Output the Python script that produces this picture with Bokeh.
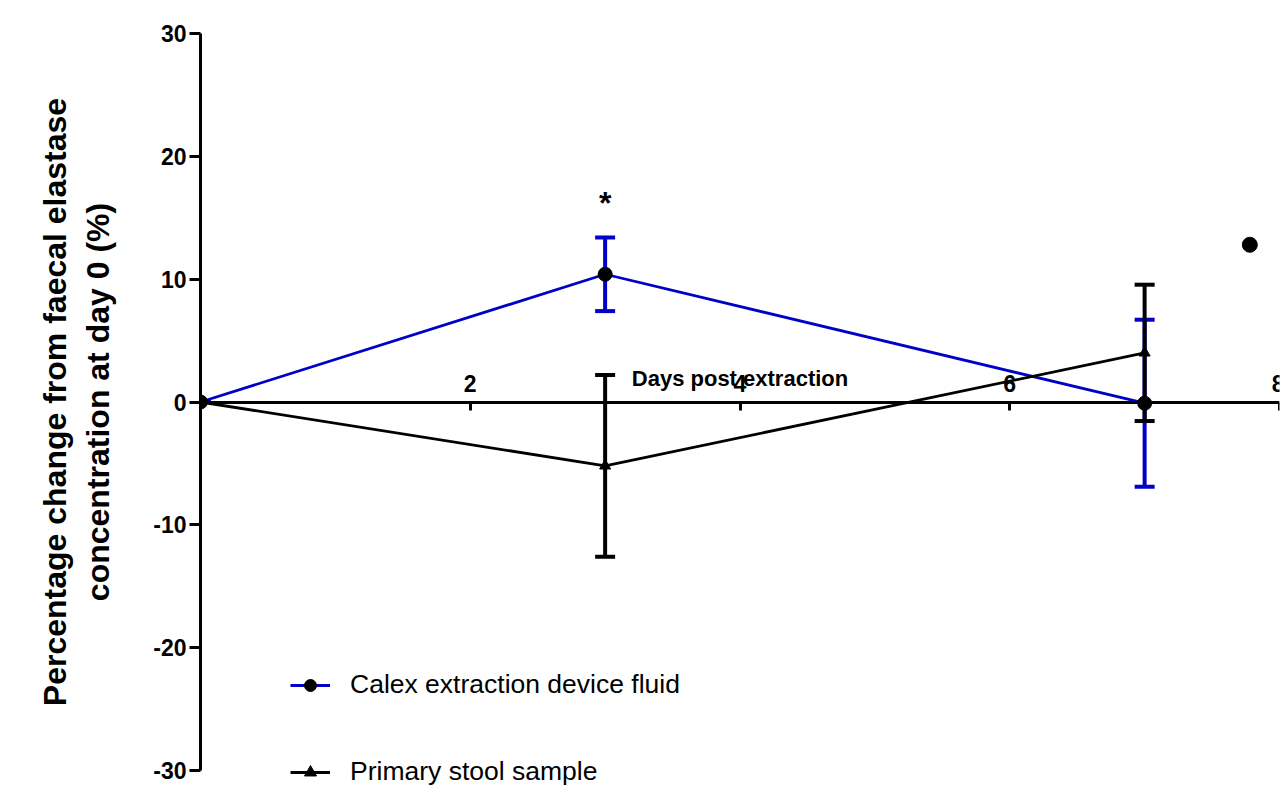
from bokeh.plotting import figure
from bokeh.models import (ColumnDataSource, Whisker, TeeHead, FixedTicker, Legend,
                          LegendItem, Range1d, PrintfTickFormatter)
from bokeh.core.properties import value
from bokeh.embed import file_html
from bokeh.resources import INLINE

# ---- data ----
days = [0, 3, 7]
calex_mean = [0.0, 10.4, -0.1]
calex_err = [0.0, 3.0, 6.8]
stool_mean = [0.0, -5.2, 4.0]
stool_err = [0.0, 7.4, 5.55]
x_ticks = [2, 4, 6, 8]
y_ticks = [-30, -20, -10, 0, 10, 20, 30]
star_x = [3]
star_y = [16.2]
stray_x = [7.78]
stray_y = [12.8]

FONT = "Liberation Sans"
BLUE = "#0000c8"

p = figure(width=1284, height=796, x_range=Range1d(0, 8), y_range=Range1d(-31.63, 31.63),
           x_axis_location="above", output_backend="svg", toolbar_location=None,
           min_border_left=200, min_border_right=5, min_border_top=13, min_border_bottom=6)
p.outline_line_color = None
p.xgrid.visible = False
p.ygrid.visible = False
p.background_fill_color = "white"

# x axis fixed at y = 0
xa = p.xaxis[0]
xa.fixed_location = 0
xa.bounds = (0, 8)
xa.ticker = FixedTicker(ticks=x_ticks)
xa.formatter = PrintfTickFormatter(format="%d")
xa.axis_line_width = 3
xa.axis_line_color = "black"
xa.major_tick_line_width = 3
xa.major_tick_line_color = "black"
xa.major_tick_in = 8
xa.major_tick_out = 0
xa.minor_tick_line_color = None
xa.major_label_standoff = 10
xa.major_label_text_font = FONT
xa.major_label_text_font_style = "bold"
xa.major_label_text_font_size = "23px"
xa.major_label_text_color = "black"
xa.axis_label = "Days post extraction"
xa.axis_label_text_font = FONT
xa.axis_label_text_font_style = "bold"
xa.axis_label_text_font_size = "22px"
xa.axis_label_text_color = "black"
xa.axis_label_standoff = -18

ya = p.yaxis[0]
ya.bounds = (-30, 30)
ya.ticker = FixedTicker(ticks=y_ticks)
ya.formatter = PrintfTickFormatter(format="%d")
ya.axis_line_width = 3
ya.axis_line_color = "black"
ya.major_tick_line_width = 3
ya.major_tick_line_color = "black"
ya.major_tick_in = 0
ya.major_tick_out = 11
ya.minor_tick_line_color = None
ya.major_label_standoff = 3
ya.major_label_text_font = FONT
ya.major_label_text_font_style = "bold"
ya.major_label_text_font_size = "23px"
ya.major_label_text_color = "black"
ya.axis_label = "Percentage change from faecal elastase\nconcentration at day 0 (%)"
ya.axis_label_text_font = FONT
ya.axis_label_text_font_style = "bold"
ya.axis_label_text_font_size = "32px"
ya.axis_label_text_color = "black"
ya.axis_label_standoff = 34

calex = ColumnDataSource(dict(x=days, y=calex_mean,
                              lo=[m - e for m, e in zip(calex_mean, calex_err)],
                              hi=[m + e for m, e in zip(calex_mean, calex_err)]))
stool = ColumnDataSource(dict(x=days, y=stool_mean,
                              lo=[m - e for m, e in zip(stool_mean, stool_err)],
                              hi=[m + e for m, e in zip(stool_mean, stool_err)]))

# Calex series (blue)
c_line = p.line("x", "y", source=calex, line_color=BLUE, line_width=2.8)
p.add_layout(Whisker(source=calex, base="x", lower="lo", upper="hi", dimension="height",
                     line_color=BLUE, line_width=4,
                     upper_head=TeeHead(size=20, line_color=BLUE, line_width=4),
                     lower_head=TeeHead(size=20, line_color=BLUE, line_width=4)))

# Stool series (black)
s_line = p.line("x", "y", source=stool, line_color="black", line_width=2.8)
p.add_layout(Whisker(source=stool, base="x", lower="lo", upper="hi", dimension="height",
                     line_color="black", line_width=4,
                     upper_head=TeeHead(size=20, line_color="black", line_width=4),
                     lower_head=TeeHead(size=20, line_color="black", line_width=4)))

s_mark = p.scatter("x", "y", source=stool, marker="triangle", size=11,
                   fill_color="black", line_color="black")
c_mark = p.scatter("x", "y", source=calex, marker="circle", size=14,
                   fill_color="black", line_color="black")

p.scatter(stray_x, stray_y, marker="circle", size=15, fill_color="black", line_color="black")

p.text(star_x, star_y, text=["*"], text_font=value(FONT), text_font_size="32px",
       text_font_style="bold", text_align="center", text_baseline="middle",
       text_color="black")

legend = Legend(items=[LegendItem(label="Calex extraction device fluid", renderers=[c_line, c_mark]),
                       LegendItem(label="Primary stool sample", renderers=[s_line, s_mark])],
                location=(90, 3), orientation="vertical")
legend.border_line_color = None
legend.background_fill_alpha = 0
legend.padding = 0
legend.margin = 0
legend.spacing = 56
legend.glyph_width = 40
legend.glyph_height = 30
legend.label_standoff = 20
legend.label_text_font = FONT
legend.label_text_font_size = "26.5px"
legend.label_text_color = "black"
p.add_layout(legend, "center")

open("out.html", "w").write(file_html(p, INLINE))
